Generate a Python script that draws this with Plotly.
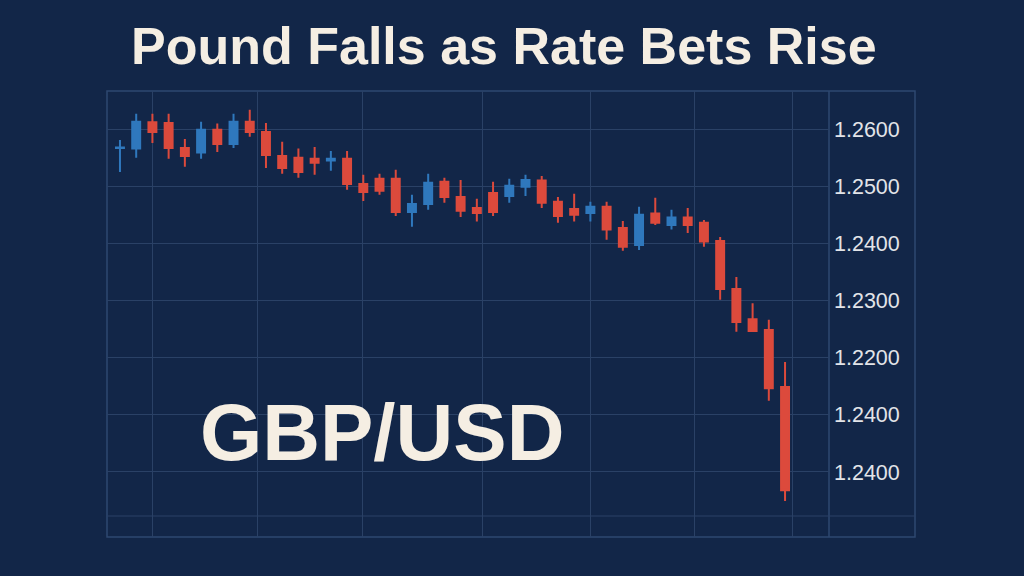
import plotly.graph_objects as go

# ---- data ----
sessions = list(range(1, 43))
open_ = [1.2568, 1.2567, 1.2613, 1.2612, 1.2568, 1.2560, 1.2600, 1.2575, 1.2614, 1.2596,
         1.2554, 1.2551, 1.2549, 1.2546, 1.2549, 1.2505, 1.2514, 1.2514, 1.2456, 1.2470,
         1.2509, 1.2482, 1.2463, 1.2489, 1.2484, 1.2500, 1.2511, 1.2474, 1.2461, 1.2454,
         1.2465, 1.2428, 1.2398, 1.2453, 1.2433, 1.2446, 1.2437, 1.2405, 1.2321, 1.2268,
         1.2249, 1.2149]
high = [1.2582, 1.2628, 1.2628, 1.2628, 1.2584, 1.2614, 1.2611, 1.2628, 1.2635, 1.2612,
        1.2579, 1.2567, 1.2570, 1.2563, 1.2563, 1.2521, 1.2523, 1.2530, 1.2486, 1.2523,
        1.2516, 1.2512, 1.2479, 1.2509, 1.2514, 1.2521, 1.2519, 1.2482, 1.2488, 1.2474,
        1.2474, 1.2440, 1.2465, 1.2481, 1.2460, 1.2463, 1.2442, 1.2412, 1.2342, 1.2296,
        1.2267, 1.2193]
low = [1.2526, 1.2551, 1.2577, 1.2549, 1.2535, 1.2549, 1.2561, 1.2568, 1.2588, 1.2533,
       1.2523, 1.2516, 1.2521, 1.2528, 1.2495, 1.2475, 1.2486, 1.2449, 1.2430, 1.2460,
       1.2472, 1.2447, 1.2439, 1.2449, 1.2472, 1.2484, 1.2463, 1.2437, 1.2439, 1.2439,
       1.2407, 1.2388, 1.2389, 1.2433, 1.2425, 1.2419, 1.2395, 1.2302, 1.2246, 1.2247,
       1.2125, 1.1949]
close = [1.2569, 1.2614, 1.2596, 1.2568, 1.2554, 1.2600, 1.2575, 1.2614, 1.2596, 1.2556,
         1.2533, 1.2526, 1.2542, 1.2549, 1.2505, 1.2491, 1.2493, 1.2456, 1.2470, 1.2507,
         1.2482, 1.2458, 1.2454, 1.2456, 1.2502, 1.2512, 1.2472, 1.2449, 1.2451, 1.2465,
         1.2425, 1.2395, 1.2451, 1.2437, 1.2446, 1.2433, 1.2404, 1.2321, 1.2263, 1.2247,
         1.2147, 1.1968]

ytick_vals = [1.26, 1.25, 1.24, 1.23, 1.22, 1.21, 1.20]
ytick_text = ["1.2600", "1.2500", "1.2400", "1.2300", "1.2200", "1.2400", "1.2400"]
xgrid_vals = [3.03, 9.45, 15.92, 23.32, 29.98, 36.39, 42.49]

title_text = "Pound Falls as Rate Bets Rise"
pair_text = "GBP/USD"

BG = "#122648"
GRID = "#2a4166"
FRAME = "#2e4870"
UP = "#2f78bd"
DOWN = "#dc4a3c"
CREAM = "#f5eee3"

fig = go.Figure()
fig.add_trace(go.Candlestick(
    x=sessions, open=open_, high=high, low=low, close=close,
    increasing=dict(line=dict(color=UP, width=2), fillcolor=UP),
    decreasing=dict(line=dict(color=DOWN, width=2), fillcolor=DOWN),
    whiskerwidth=0,
    showlegend=False,
    hoverinfo="x+y",
))

fig.update_layout(
    width=1024, height=576,
    margin=dict(l=107, r=195, t=91, b=39),
    paper_bgcolor=BG, plot_bgcolor=BG,
    showlegend=False,
    title=dict(text=title_text, x=0.492, xanchor="center", y=1 - 46 / 576,
               yanchor="middle", yref="container",
               font=dict(family="Liberation Sans, Arial, sans-serif", size=52,
                         color=CREAM, weight="bold")),
    xaxis=dict(range=[0.20, 44.71], tickvals=xgrid_vals, showticklabels=False,
               showgrid=True, gridcolor=GRID, gridwidth=1, zeroline=False,
               rangeslider=dict(visible=False), fixedrange=True,
               showline=False, ticks=""),
    yaxis=dict(range=[1.1886, 1.2668], side="right", tickvals=ytick_vals,
               ticktext=ytick_text, showgrid=True, gridcolor=GRID, gridwidth=1,
               zeroline=False, ticks="", ticklabelstandoff=4,
               tickfont=dict(family="Liberation Sans, Arial, sans-serif", size=21.5,
                             color="#e2e4e8"),
               showline=False, fixedrange=True),
    font=dict(family="Liberation Sans, Arial, sans-serif", color=CREAM),
)

# outer frame, right axis column separator and lower band line
x_right_paper = (915 - 107) / (829 - 107)
y_band = (537 - 516) / 446
fig.add_shape(type="rect", xref="paper", yref="paper", x0=0, x1=x_right_paper,
              y0=0, y1=1, line=dict(color=FRAME, width=1.5), layer="below")
fig.add_shape(type="line", xref="paper", yref="paper", x0=1, x1=1, y0=0, y1=1,
              line=dict(color=FRAME, width=1.5), layer="below")
fig.add_shape(type="line", xref="paper", yref="paper", x0=0, x1=x_right_paper,
              y0=y_band, y1=y_band, line=dict(color=GRID, width=1), layer="below")

fig.add_annotation(text=pair_text, xref="paper", yref="paper",
                   x=(382 - 107) / (829 - 107), y=(537 - 432) / 446,
                   xanchor="center", yanchor="middle", showarrow=False,
                   font=dict(family="Liberation Sans, Arial, sans-serif", size=80,
                             color=CREAM, weight="bold"))

fig.write_html(
    "out.html",
    config={"displayModeBar": False},
    post_script="document.body.style.margin='0';"
                "document.body.style.background='" + BG + "';"
                "document.body.style.overflow='hidden';",
)
